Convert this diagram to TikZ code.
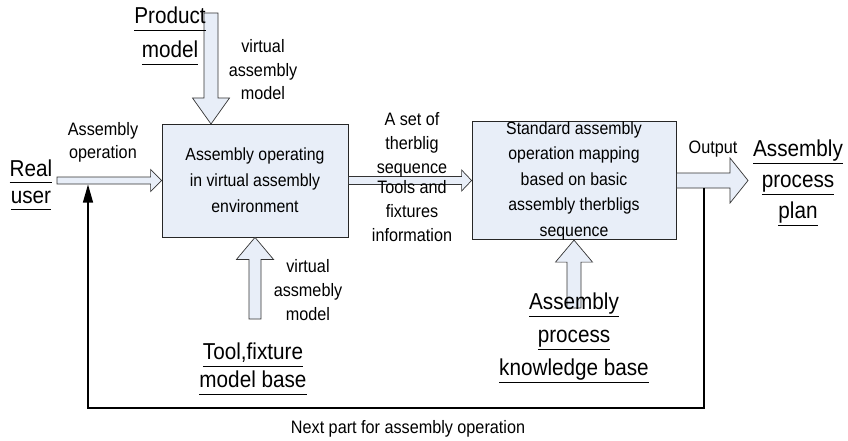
\documentclass[tikz,border=0pt]{standalone}
\usepackage{fontspec}
\setmainfont{Liberation Sans}[FakeStretch=0.9]
\usetikzlibrary{calc,arrows.meta}
\definecolor{boxfill}{RGB}{232,238,248}
\newcommand{\ulword}[1]{\underline{#1\vphantom{gp}}}
\newcommand{\harrow}[5]{\draw[blockarrow] ($(#1)+(0,-#3)$) -- ($(#2)+(-#5,-#3)$) -- ($(#2)+(-#5,-#4)$) -- (#2) -- ($(#2)+(-#5,#4)$) -- ($(#2)+(-#5,#3)$) -- ($(#1)+(0,#3)$) -- cycle;}
\newcommand{\varrow}[5]{\draw[blockarrow] ($(#1)+(-#3,0)$) -- ($(#2)+(-#3,#5)$) -- ($(#2)+(-#4,#5)$) -- (#2) -- ($(#2)+(#4,#5)$) -- ($(#2)+(#3,#5)$) -- ($(#1)+(#3,0)$) -- cycle;}
\tikzset{
  procbox/.style={draw=black!85,line width=0.8pt,fill=boxfill,inner sep=0pt,align=center,
    font=\fontsize{17.6}{26}\selectfont},
  blockarrow/.style={draw=black!80,line width=0.7pt,fill=boxfill},
  biglabel/.style={inner sep=0pt,align=center},
  smalllabel/.style={inner sep=0pt,align=center,font=\fontsize{18}{23.5}\selectfont},
  fbline/.style={line width=1.2pt,->}
}
\begin{document}
\begin{tikzpicture}[x=1pt,y=-1pt,>={Triangle[length=18pt,width=10pt]}]
\useasboundingbox (0,0) rectangle (848,441);
\node[procbox,minimum width=186pt,minimum height=113pt] (vaenv) at (255,180.5)
  {Assembly operating\\in virtual assembly\\environment};
\node[procbox,minimum width=204pt,minimum height=113pt,font=\fontsize{17.6}{25.5}\selectfont] (mapping) at (574,180.5)
  {Standard assembly\\operation mapping\\based on basic\\assembly therbligs\\sequence};
\coordinate (usrout) at (57,180.5);
\coordinate (pmin) at (211,13);
\coordinate (vatop) at (211,124);
\coordinate (toolin) at (255,319);
\coordinate (knowin) at (574,308);
\coordinate (planin) at (748,180.5);
\coordinate (fbtop) at (704,188);
\coordinate (fbR) at (704,408);
\coordinate (fbL) at (88,408);
\coordinate (fbend) at (88,184.5);
\harrow{usrout}{vaenv.west}{3.5}{11}{11}
\varrow{pmin}{vatop}{7}{18.5}{-26}
\harrow{vaenv.east}{mapping.west}{4}{10.5}{10}
\varrow{toolin}{vaenv.south}{6}{18.5}{22}
\varrow{knowin}{mapping.south}{7}{18.5}{22}
\harrow{mapping.east}{planin}{7.5}{22.5}{18}
\draw[fbline] (fbtop) -- (fbR) -- (fbL) -- (fbend);
\begin{scope}[font=\fontsize{23}{27}\selectfont]
\node[biglabel] (realuser) at (31,185) {\ulword{Real}\\\ulword{user}};
\node[biglabel,font=\fontsize{23}{34}\selectfont] (prodmodel) at (170,36) {\ulword{Product}\\\ulword{model}};
\node[biglabel,font=\fontsize{23}{31}\selectfont] (procplan) at (798,183) {\ulword{Assembly}\\\ulword{process}\\\ulword{plan}};
\node[biglabel,font=\fontsize{23}{28}\selectfont] (toolbase) at (253,369) {\ulword{Tool,fixture}\\\ulword{model base}};
\node[biglabel,font=\fontsize{23}{33}\selectfont] (knowbase) at (574,338) {\ulword{Assembly}\\\ulword{process}\\\ulword{knowledge base}};
\end{scope}
\node[smalllabel] (vamtop) at (263,70) {virtual\\assembly\\model};
\node[smalllabel] (assyop) at (103,142.5) {Assembly\\operation};
\node[smalllabel,font=\fontsize{18}{24}\selectfont] (therb) at (412,145) {A set of\\therblig\\sequence};
\node[smalllabel,font=\fontsize{18}{24}\selectfont] (toolinfo) at (412,211) {Tools and\\fixtures\\information};
\node[smalllabel] (outlbl) at (713,149) {Output};
\node[smalllabel,font=\fontsize{18}{24}\selectfont] (vambot) at (308,290) {virtual\\assmebly\\model};
\node[smalllabel] (nextpart) at (408,429) {Next part for assembly operation};
\end{tikzpicture}
\end{document}
